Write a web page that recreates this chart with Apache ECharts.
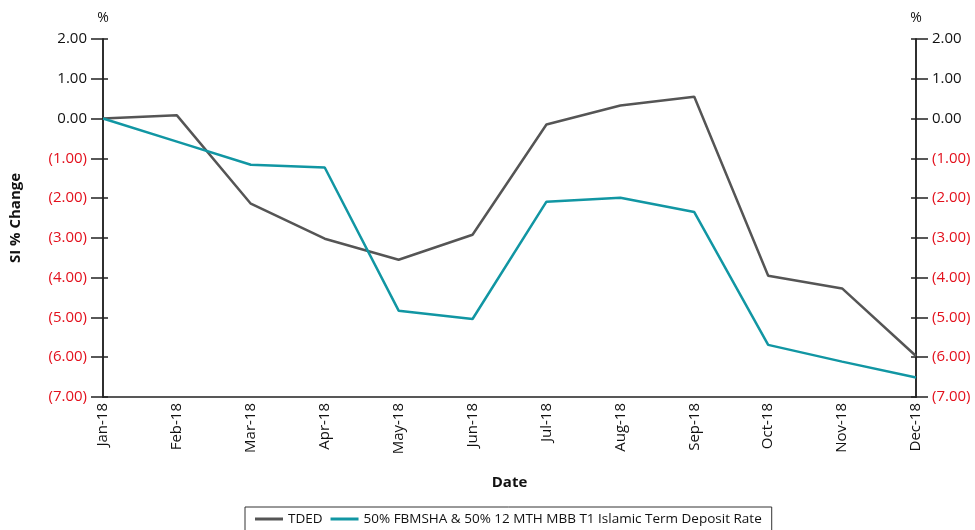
<!DOCTYPE html>
<html>
<head>
<meta charset="utf-8">
<script src="https://cdn.jsdelivr.net/npm/echarts@6/dist/echarts.min.js"></script>
<style>
  html, body { margin: 0; padding: 0; background: #fff; }
  #chart { width: 975px; height: 530px; }
</style>
</head>
<body>
<div id="chart"></div>
<script>
// monthly points, Jan-18 .. Dec-18
const months = ['Jan-18', 'Feb-18', 'Mar-18', 'Apr-18', 'May-18', 'Jun-18',
  'Jul-18', 'Aug-18', 'Sep-18', 'Oct-18', 'Nov-18', 'Dec-18']
const tded = [0.00, 0.08, -2.14, -3.02, -3.55, -2.92, -0.15, 0.33, 0.55, -3.95, -4.27, -5.97]
const benchmark = [0.00, -0.58, -1.16, -1.23, -4.83, -5.04, -2.09, -1.99, -2.35, -5.69, -6.11, -6.51]
const seriesNames = ['TDED', '50% FBMSHA & 50% 12 MTH MBB T1 Islamic Term Deposit Rate']

const font = '"Open Sans", "Noto Sans", sans-serif'

// negatives shown in brackets and in red
function pctLabel (value) {
  const txt = Math.abs(value).toFixed(2)
  return value < 0 ? '{neg|(' + txt + ')}' : '{pos|' + txt + '}'
}

function valueAxis (pos, inside, extra) {
  return Object.assign({
    type: 'value',
    position: pos,
    min: -7,
    max: 2,
    interval: 1,
    splitLine: { show: false },
    axisLine: { show: true, onZero: false, lineStyle: { color: '#222', width: 1.5 } },
    axisTick: { show: true, inside: inside, length: inside ? 5 : 12, lineStyle: { color: '#222', width: 1.5 } },
    axisLabel: { show: false }
  }, extra)
}

const labelCfg = {
  show: true,
  margin: 16,
  formatter: pctLabel,
  rich: {
    pos: { color: '#111', fontSize: 15, fontFamily: font },
    neg: { color: '#e3101c', fontSize: 15, fontFamily: font }
  }
}

const myChart = echarts.init(document.getElementById('chart'))
myChart.setOption({
  animation: false,
  textStyle: { fontFamily: font },
  grid: { left: 102, right: 59, top: 39, bottom: 133, containLabel: false },
  legend: {
    data: seriesNames,
    top: 507,
    left: 245,
    icon: 'rect',
    borderColor: '#333',
    borderWidth: 1,
    padding: [5, 10, 10, 10],
    itemWidth: 28,
    itemHeight: 3,
    itemGap: 8,
    textStyle: { fontSize: 13.5, color: '#111', fontFamily: font }
  },
  xAxis: {
    type: 'category',
    data: months,
    boundaryGap: false,
    name: 'Date',
    nameLocation: 'middle',
    nameGap: 78,
    nameTextStyle: { fontSize: 15, fontWeight: 'bold', color: '#111' },
    axisLine: { onZero: false, lineStyle: { color: '#222', width: 1.5 } },
    axisTick: { show: false },
    axisLabel: { rotate: 90, margin: 6, fontSize: 15, color: '#111', interval: 0 }
  },
  yAxis: [
    valueAxis('left', false, {
      name: 'SI % Change',
      nameLocation: 'middle',
      nameGap: 80,
      nameTextStyle: { fontSize: 15, fontWeight: 'bold', color: '#111' },
      axisLabel: labelCfg
    }),
    valueAxis('left', true, {
      name: '%',
      nameLocation: 'end',
      nameGap: 14,
      nameTextStyle: { fontSize: 14, color: '#111' }
    }),
    valueAxis('right', false, { axisLabel: labelCfg }),
    valueAxis('right', true, {
      name: '%',
      nameLocation: 'end',
      nameGap: 14,
      nameTextStyle: { fontSize: 14, color: '#111' }
    })
  ],
  series: [
    {
      name: seriesNames[0],
      type: 'line',
      data: tded,
      symbol: 'none',
      lineStyle: { color: '#555555', width: 2.5 },
      itemStyle: { color: '#555555' }
    },
    {
      name: seriesNames[1],
      type: 'line',
      data: benchmark,
      symbol: 'none',
      lineStyle: { color: '#1196a3', width: 2.5 },
      itemStyle: { color: '#1196a3' }
    }
  ]
})
</script>
</body>
</html>
